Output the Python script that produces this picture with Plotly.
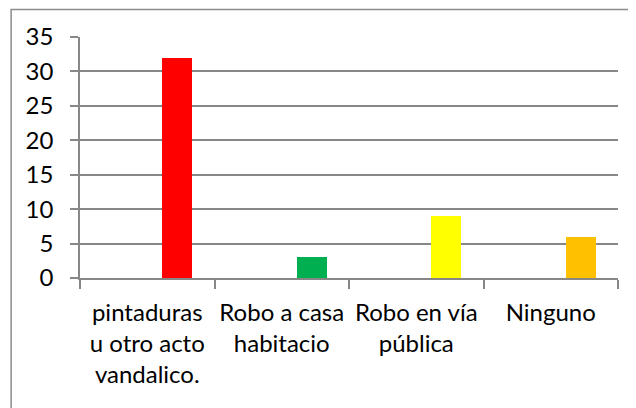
import plotly.graph_objects as go

categories = ["pintaduras<br>u otro acto<br>vandalico.", "Robo a casa<br>habitacio", "Robo en vía<br>pública", "Ninguno"]
values = [32, 3, 9, 6]
colors = ["#FF0000", "#00B050", "#FFFF00", "#FFC000"]
y_ticks = [0, 5, 10, 15, 20, 25, 30, 35]

fig = go.Figure()
fig.add_trace(go.Bar(
    x=categories, y=values,
    marker=dict(color=colors, line=dict(width=0)),
    offset=0.1115, width=0.223,
    showlegend=False,
))

grid = "#878787"
fig.update_layout(
    width=628, height=400,
    margin=dict(l=72, r=18, t=29, b=130, autoexpand=False),
    paper_bgcolor="white", plot_bgcolor="white",
    font=dict(family="Lato", size=24, color="black"),
    bargap=0,
    shapes=[dict(type="rect", xref="paper", yref="paper",
                 x0=-0.128, x1=1.2, y0=-2, y1=1.114,
                 line=dict(color="#8c8c8c", width=1.5), fillcolor="rgba(0,0,0,0)",
                 layer="below")],
)
fig.update_xaxes(
    type="category", range=[-0.5, 3.5], automargin=False,
    showline=True, linecolor=grid, linewidth=1.5,
    ticks="outside", tickson="boundaries", ticklen=9, tickcolor=grid, tickwidth=1.5,
    showgrid=False, ticklabelstandoff=12,
    tickfont=dict(family="Lato", size=24, color="black"),
)
fig.update_yaxes(
    range=[0, 35], tickvals=y_ticks, automargin=False,
    showline=True, linecolor=grid, linewidth=1.5,
    ticks="outside", ticklen=8, tickcolor=grid, tickwidth=1.5,
    showgrid=True, gridcolor=grid, gridwidth=1.5,
    zeroline=False, ticklabelstandoff=12,
    tickfont=dict(family="Lato", size=24, color="black"),
)

fig.write_html("out.html")
